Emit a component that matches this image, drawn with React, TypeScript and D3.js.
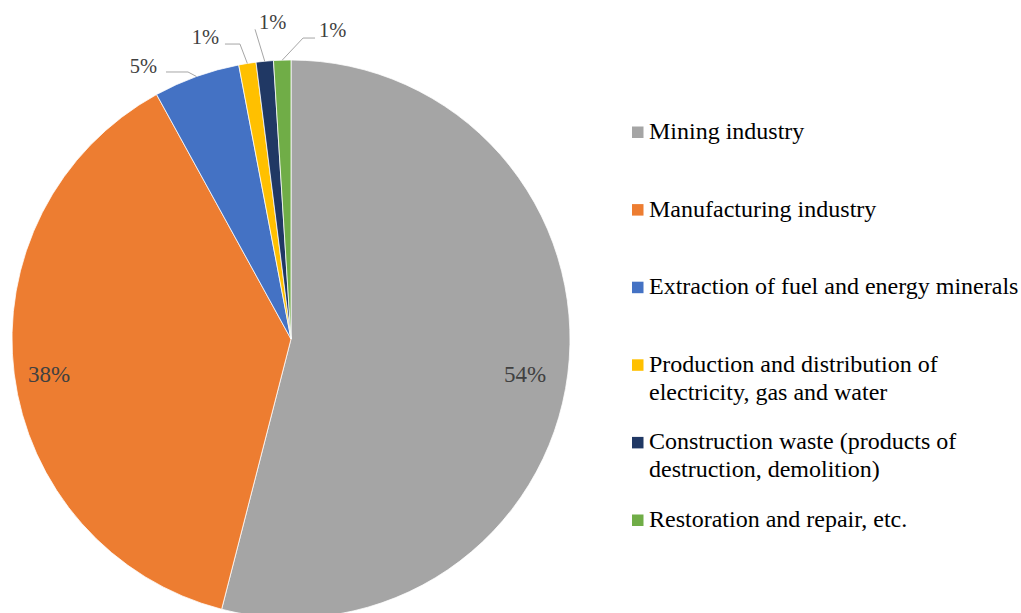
import React from "react";
import * as d3 from "d3";

const categories = [
  "Mining industry",
  "Manufacturing industry",
  "Extraction of fuel and energy minerals",
  "Production and distribution of\nelectricity, gas and water",
  "Construction waste (products of\ndestruction, demolition)",
  "Restoration and repair, etc.",
];
const values = [54, 38, 5, 1, 1, 1];
const labels = ["54%", "38%", "5%", "1%", "1%", "1%"];
const colors = ["#A5A5A5", "#ED7D31", "#4472C4", "#FFC000", "#203864", "#70AD47"];

const W = 1021;
const H = 613;
const cx = 291;
const cy = 339;
const R = 279;

// label layout per slice (inside = centroid, outside = leader lines)
const outsideLayout: Record<number, { pts: [number, number][]; tx: number; ty: number; anchor: string }> = {
  2: { pts: [[-8.5, -4.5], [-30.5, -4.5]], tx: -39.5, ty: -3.8, anchor: "end" },
  3: { pts: [[-7.4, -19.4], [-22.4, -19.4]], tx: -28.4, ty: -19.4, anchor: "end" },
  4: { pts: [[-9.7, -31.9]], tx: -5.7, ty: -32.2, anchor: "start" },
  5: { pts: [[20.8, -22.1], [32.8, -22.1]], tx: 36.8, ty: -23.1, anchor: "start" },
};

export default function App() {
  const pie = d3.pie<number>().sort(null).value((d) => d);
  const arcs = pie(values);
  const arc = d3.arc<d3.PieArcDatum<number>>().innerRadius(0).outerRadius(R);
  const labelArc = d3.arc<d3.PieArcDatum<number>>().innerRadius(R * 0.86).outerRadius(R * 0.86);

  const legendX = 632;
  const legendY0 = 139;
  const legendStep = 77.6;

  return (
    <svg
      width={W}
      height={H}
      style={{ position: "absolute", left: 0, top: 0, background: "#fff" }}
      fontFamily="'Liberation Serif', 'Times New Roman', serif"
    >
      <g transform={`translate(${cx},${cy})`}>
        {arcs.map((a, i) => (
          <path key={i} d={arc(a) || ""} fill={colors[i]} stroke="#fff" strokeWidth={0.75} />
        ))}
        {arcs.map((a, i) => {
          const lay = outsideLayout[i];
          if (!lay) {
            const [x, y] = labelArc.centroid(a);
            return (
              <text key={i} x={x - 4} y={y + 13} textAnchor="middle" fontSize={23} fill="#404040">
                {labels[i]}
              </text>
            );
          }
          const mid = (a.startAngle + a.endAngle) / 2;
          const ax = R * Math.sin(mid);
          const ay = -R * Math.cos(mid);
          const pts: [number, number][] = [[ax, ay], ...lay.pts.map(([dx, dy]) => [ax + dx, ay + dy] as [number, number])];
          const line = d3.line()(pts) || "";
          return (
            <g key={i}>
              <path d={line} fill="none" stroke="#A6A6A6" strokeWidth={1} />
              <text x={ax + lay.tx} y={ay + lay.ty} textAnchor={lay.anchor as any} fontSize={20.5} fill="#404040">
                {labels[i]}
              </text>
            </g>
          );
        })}
      </g>
      <g>
        {categories.map((c, i) => {
          const y = legendY0 + i * legendStep;
          const lines = c.split("\n");
          return (
            <g key={i}>
              <rect x={legendX} y={y - 12.5} width={11.5} height={11.5} fill={colors[i]} />
              <text x={649} y={y} fontSize={24} fill="#000">
                {lines.map((l, j) => (
                  <tspan key={j} x={649} dy={j === 0 ? 0 : 28}>
                    {l}
                  </tspan>
                ))}
              </text>
            </g>
          );
        })}
      </g>
    </svg>
  );
}
